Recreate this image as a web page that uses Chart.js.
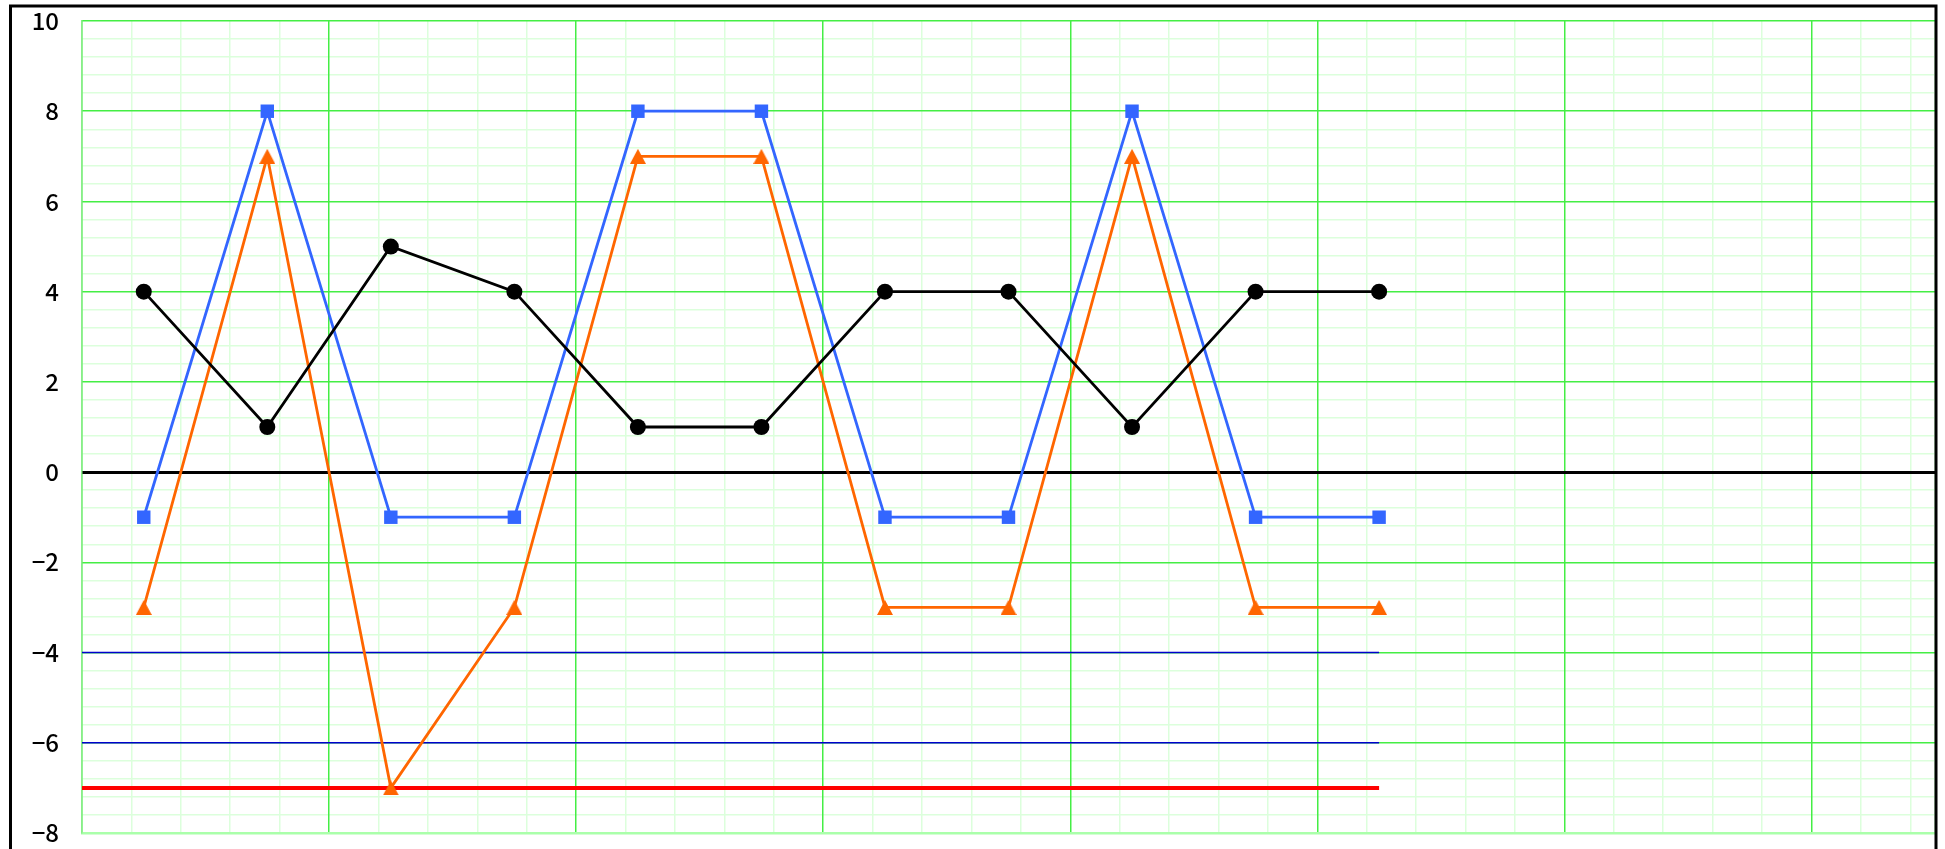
<!DOCTYPE html>
<html>
<head>
<meta charset="utf-8">
<script src="https://cdn.jsdelivr.net/npm/chart.js@4/dist/chart.umd.min.js"></script>
<style>
  html, body { margin: 0; padding: 0; background: #fff; overflow: hidden; }
  #wrap { position: relative; width: 1945px; height: 849px; }
</style>
</head>
<body>
<div id="wrap"><canvas id="chart" width="1945" height="849"></canvas></div>
<script>
// ---- data ----
const xPositions  = [0.5, 1.5, 2.5, 3.5, 4.5, 5.5, 6.5, 7.5, 8.5, 9.5, 10.5];
const blackValues = [4, 1, 5, 4, 1, 1, 4, 4, 1, 4, 4];
const blueValues  = [-1, 8, -1, -1, 8, 8, -1, -1, 8, -1, -1];
const orangeValues = [-3, 7, -7, -3, 7, 7, -3, -3, 7, -3, -3];
const levelLines  = [-4, -6];   // thin blue reference lines
const limitLine   = -7;         // thick red line
const levelSpan   = [0, 10.5];  // x extent of the reference lines
const xRange = [0, 15];
const yRange = [-8, 10];
const majorStep = 2;
const minorStep = 0.4;

const C = {
    black:  '#000000',
    blue:   '#3366ff',
    orange: '#ff6600',
    level:  '#0000cc',
    limit:  '#ff0000',
    major:  '#44ee44',
    minor:  '#dcffdc',
    edge:   '#aaffaa',
};

const pts = vals => vals.map((v, i) => ({ x: xPositions[i], y: v }));
const flat = y => levelSpan.map(x => ({ x, y }));
const isMajor = v => Math.abs(v / majorStep - Math.round(v / majorStep)) < 1e-6;
const isZero = v => Math.abs(v) < 1e-6;
const noPad = s => { s.paddingTop = 0; s.paddingBottom = 0; s.paddingLeft = 0; s.paddingRight = 0; };

// triangle marker centred on its box (chart.js' own one sits high)
function triangleMarker(color, w, h) {
    const c = document.createElement('canvas');
    c.width = w;
    c.height = h;
    const g = c.getContext('2d');
    g.fillStyle = color;
    g.beginPath();
    g.moveTo(w / 2, 0);
    g.lineTo(w, h);
    g.lineTo(0, h);
    g.closePath();
    g.fill();
    return c;
}

function series(data, color, style, radius) {
    return {
        data,
        borderColor: color,
        backgroundColor: color,
        borderWidth: 2.8,
        pointStyle: style,
        pointRadius: radius,
        pointHoverRadius: radius,
        pointBorderWidth: 0,
        tension: 0,
        order: 1
    };
}

function hline(y, color, width) {
    return {
        data: flat(y),
        borderColor: color,
        borderWidth: width,
        pointRadius: 0,
        order: 5
    };
}

// outer black frame
const framePlugin = {
    id: 'frame',
    afterDraw(chart) {
        const ctx = chart.ctx;
        ctx.save();
        ctx.strokeStyle = '#000';
        ctx.lineWidth = 3;
        ctx.beginPath();
        ctx.moveTo(10.5, 900);
        ctx.lineTo(10.5, 6);
        ctx.lineTo(1936, 6);
        ctx.lineTo(1936, 900);
        ctx.stroke();
        ctx.restore();
    }
};

new Chart(document.getElementById('chart'), {
    type: 'line',
    data: {
        datasets: [
            ...levelLines.map(y => hline(y, C.level, 1.5)),
            hline(limitLine, C.limit, 4),
            series(pts(blackValues), C.black, 'circle', 8),
            series(pts(blueValues), C.blue, 'rect', 9.5),
            series(pts(orangeValues), C.orange, triangleMarker(C.orange, 16, 15), 8)
        ]
    },
    options: {
        responsive: false,
        animation: false,
        layout: { padding: { left: 0, top: 21, right: 10, bottom: 16 } },
        plugins: {
            legend: { display: false },
            tooltip: { enabled: false }
        },
        scales: {
            x: {
                type: 'linear',
                min: xRange[0],
                max: xRange[1],
                ticks: { display: false, stepSize: minorStep },
                grid: {
                    z: -2,
                    drawTicks: false,
                    color: c => isMajor(c.tick.value) ? C.major : C.minor,
                    lineWidth: 1.5
                },
                border: { color: C.edge, width: 2.5 },
                afterFit: s => { s.height = 0; noPad(s); }
            },
            y: {
                type: 'linear',
                min: yRange[0],
                max: yRange[1],
                afterFit: s => { s.width = 82; noPad(s); },
                ticks: {
                    stepSize: minorStep,
                    autoSkip: false,
                    padding: 23,
                    color: '#000',
                    font: { family: '"Noto Sans CJK JP", "DejaVu Sans"', size: 24, weight: 500 },
                    callback: v => isMajor(v) ? String(Math.round(v)).replace('-', '\u2212') : ''
                },
                grid: {
                    z: -3,
                    drawTicks: false,
                    color: c => isMajor(c.tick.value) ? 'rgba(0,0,0,0)' : C.minor,
                    lineWidth: 1.5
                },
                border: { color: '#88ee88', width: 1.5 }
            },
            // major horizontal lines, drawn over the minor grid
            yMajor: {
                type: 'linear',
                position: 'left',
                min: yRange[0],
                max: yRange[1],
                afterFit: s => { s.width = 0; noPad(s); },
                ticks: { display: false, stepSize: majorStep },
                grid: {
                    z: -1,
                    drawTicks: false,
                    color: c => isZero(c.tick.value) ? C.black : C.major,
                    lineWidth: c => isZero(c.tick.value) ? 3 : 1.5
                },
                border: { display: false }
            }
        }
    },
    plugins: [framePlugin]
});
</script>
</body>
</html>
